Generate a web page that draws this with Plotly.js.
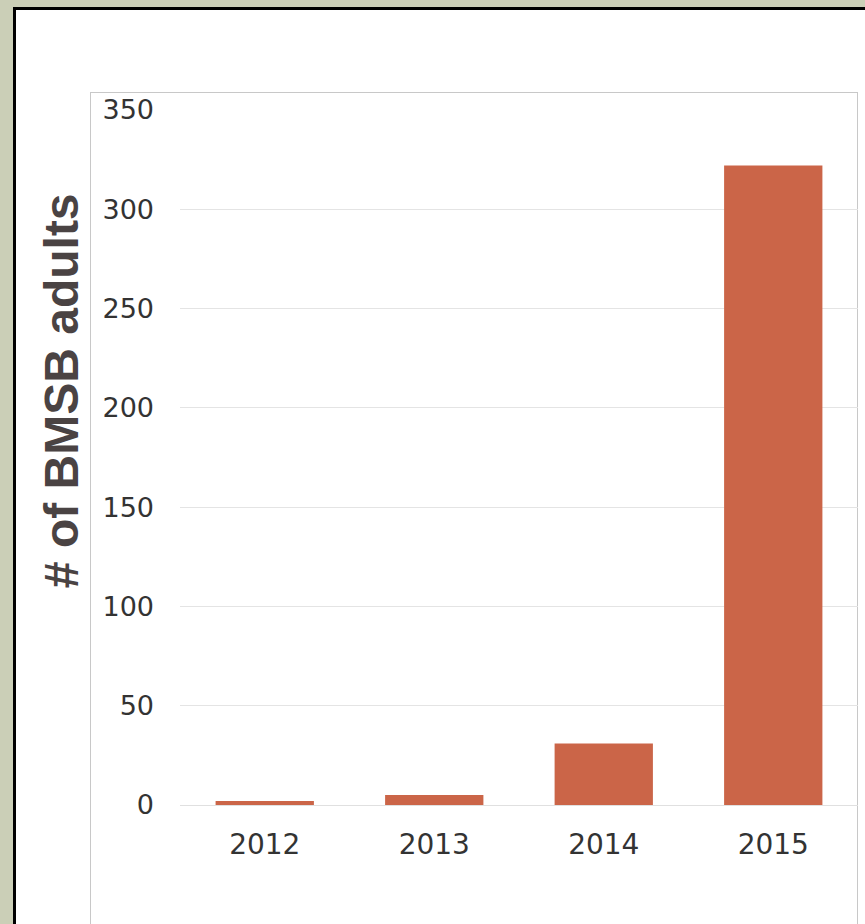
<!DOCTYPE html>
<html>
<head>
<meta charset="utf-8">
<script src="https://cdn.plot.ly/plotly-3.0.1.min.js"></script>
<style>
  html, body { margin: 0; padding: 0; width: 865px; height: 924px; overflow: hidden; background: #cbcfb7; }
  #frame { position: absolute; left: 13px; top: 7px; width: 900px; height: 1000px; background: #ffffff; border: 3px solid #000000; box-sizing: border-box; }
  #box { position: absolute; left: 90px; top: 92px; width: 768px; height: 900px; border: 1px solid #c8c8c8; box-sizing: border-box; }
  #chart { position: absolute; left: 0; top: 0; width: 865px; height: 924px; }
</style>
</head>
<body>
<div id="frame"></div>
<div id="box"></div>
<div id="chart"></div>
<script>
const years = ['2012', '2013', '2014', '2015'];
const adults = [2, 5, 31, 322];
const yTicks = [0, 50, 100, 150, 200, 250, 300, 350];
const yTitle = '# of BMSB adults';

const trace = {
  type: 'bar',
  x: years,
  y: adults,
  marker: { color: '#cb6548' },
  hoverinfo: 'x+y'
};

const layout = {
  width: 865,
  height: 924,
  margin: { l: 180, r: 7, t: 110, b: 119 },
  paper_bgcolor: 'rgba(0,0,0,0)',
  plot_bgcolor: 'rgba(0,0,0,0)',
  showlegend: false,
  bargap: 0.42,
  xaxis: {
    type: 'category',
    range: [-0.5, 3.5],
    showgrid: false,
    showline: false,
    zeroline: false,
    ticks: '',
    ticklabelstandoff: 20,
    tickfont: { family: 'DejaVu Sans', size: 28, color: '#333333' }
  },
  yaxis: {
    range: [0, 350],
    tickvals: yTicks,
    ticktext: yTicks.map(String),
    showgrid: true,
    gridcolor: '#e4e4e4',
    gridwidth: 1,
    zeroline: true,
    zerolinecolor: '#e0e0e0',
    zerolinewidth: 1,
    showline: false,
    ticks: '',
    ticklabelstandoff: 25,
    tickfont: { family: 'DejaVu Sans', size: 27, color: '#333333' }
  },
  annotations: [{
    text: '<b>' + yTitle + '</b>',
    textangle: -90,
    xref: 'paper', yref: 'paper',
    x: -0.175, y: 0.596,
    xanchor: 'center', yanchor: 'middle',
    showarrow: false,
    font: { family: 'Liberation Sans', size: 48, color: '#4a4343' }
  }]
};

Plotly.newPlot('chart', [trace], layout, { displayModeBar: false, staticPlot: true });
</script>
</body>
</html>
